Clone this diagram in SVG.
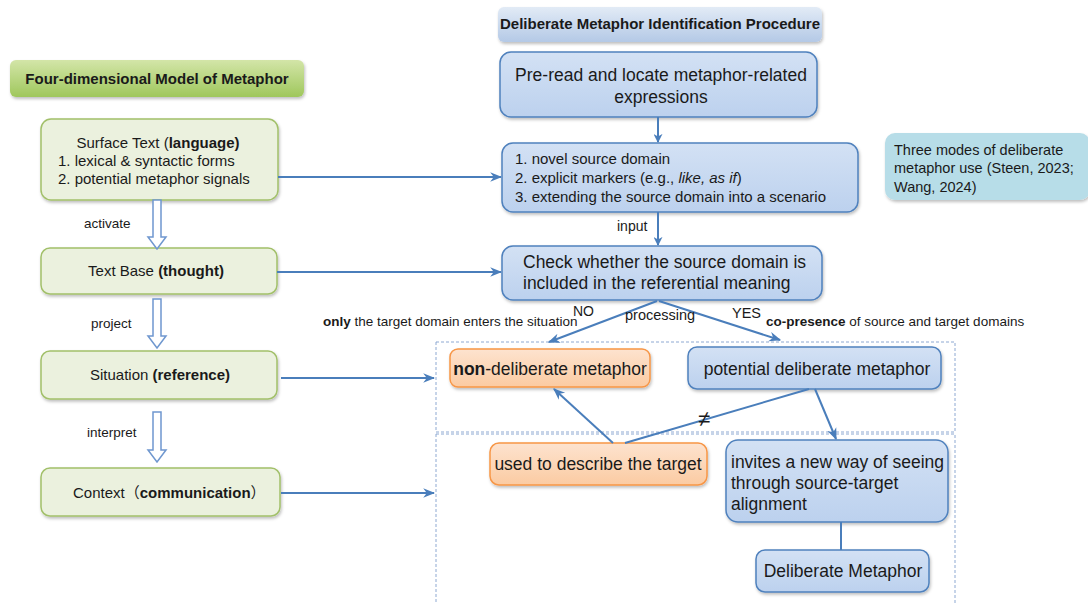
<svg xmlns="http://www.w3.org/2000/svg" width="1088" height="604" viewBox="0 0 1088 604">
<defs>
  <linearGradient id="gTitleG" x1="0" y1="0" x2="0" y2="1">
    <stop offset="0" stop-color="#d3e5a8"/>
    <stop offset="1" stop-color="#9fc75c"/>
  </linearGradient>
  <linearGradient id="gTitleB" x1="0" y1="0" x2="0" y2="1">
    <stop offset="0" stop-color="#e2ebf6"/>
    <stop offset="1" stop-color="#b4c9e6"/>
  </linearGradient>
  <linearGradient id="gBlue" x1="0" y1="0" x2="0" y2="1">
    <stop offset="0" stop-color="#d3e1f4"/>
    <stop offset="1" stop-color="#bcd1ee"/>
  </linearGradient>
  <linearGradient id="gOrange" x1="0" y1="0" x2="0" y2="1">
    <stop offset="0" stop-color="#fde3cf"/>
    <stop offset="1" stop-color="#fbcba2"/>
  </linearGradient>
  <filter id="sh" x="-10%" y="-20%" width="120%" height="150%">
    <feDropShadow dx="1" dy="2" stdDeviation="1.5" flood-color="#000" flood-opacity="0.25"/>
  </filter>
  <marker id="ah" viewBox="0 0 10 10" refX="9" refY="5" markerWidth="9" markerHeight="9" markerUnits="userSpaceOnUse" orient="auto">
    <path d="M0,0 L10,5 L0,10 L3,5 Z" fill="#4a7ebb"/>
  </marker>
  <marker id="ahs" viewBox="0 0 10 10" refX="9" refY="5" markerWidth="12" markerHeight="12" markerUnits="userSpaceOnUse" orient="auto">
    <path d="M0,1 L10,5 L0,9 L3,5 Z" fill="#4a7ebb"/>
  </marker>
</defs>
<style>
  text { font-family: "Liberation Sans", Arial, sans-serif; fill: #1a1a1a; }
  .green { fill: #ebf1de; stroke: #a2c06a; stroke-width: 1.5; }
  .blue { fill: url(#gBlue); stroke: #4f81bd; stroke-width: 1.5; }
  .orange { fill: url(#gOrange); stroke: #f79646; stroke-width: 1.5; }
  .conn { stroke: #4a7ebb; stroke-width: 2; fill: none; }
  .hollow { fill: #ffffff; stroke: #6f97cf; stroke-width: 1.5; }
  .dash { fill: none; stroke: #8ea9d2; stroke-width: 1; stroke-dasharray: 3 2; }
  .t15 { font-size: 15px; }
  .t17 { font-size: 17.5px; }
  .lab { font-size: 13.5px; }
  .b { font-weight: bold; }
</style>

<!-- dashed regions -->
<g id="regions">
  <rect class="dash" x="436" y="342" width="519" height="90"/>
  <rect class="dash" x="436" y="434" width="519" height="175"/>
</g>

<!-- left model -->
<g id="title-model">
  <rect x="10" y="60" width="294" height="37" rx="6" fill="url(#gTitleG)" filter="url(#sh)"/>
  <text x="157" y="84" text-anchor="middle" class="t15 b">Four-dimensional Model of Metaphor</text>
</g>
<g id="surface-text">
  <rect class="green" x="41" y="119" width="237" height="81" rx="10" filter="url(#sh)"/>
  <text x="158" y="148" text-anchor="middle" class="t15">Surface Text (<tspan class="b">language)</tspan></text>
  <text x="58" y="166" class="t15">1. lexical &amp; syntactic forms</text>
  <text x="58" y="184" class="t15">2. potential metaphor signals</text>
</g>
<g id="text-base">
  <rect class="green" x="41" y="248" width="236" height="46" rx="9" filter="url(#sh)"/>
  <text x="156" y="276" text-anchor="middle" class="t15">Text Base <tspan class="b">(thought)</tspan></text>
</g>
<g id="situation">
  <rect class="green" x="41" y="351" width="236" height="48" rx="9" filter="url(#sh)"/>
  <text x="160" y="380" text-anchor="middle" class="t15">Situation <tspan class="b">(reference)</tspan></text>
</g>
<g id="context">
  <rect class="green" x="41" y="468" width="239" height="48" rx="9" filter="url(#sh)"/>
  <text x="73" y="498" class="t15">Context<tspan font-family="'Noto Sans CJK SC', sans-serif">（</tspan><tspan class="b">communication</tspan><tspan font-family="'Noto Sans CJK SC', sans-serif">）</tspan></text>
</g>

<!-- right procedure -->
<g id="title-procedure">
  <rect x="498" y="7" width="324" height="35" rx="6" fill="url(#gTitleB)" filter="url(#sh)"/>
  <text x="660" y="29" text-anchor="middle" class="t15 b">Deliberate Metaphor Identification Procedure</text>
</g>
<g id="pre-read">
  <rect class="blue" x="500" y="52" width="317" height="65" rx="11" filter="url(#sh)"/>
  <text x="661" y="81" text-anchor="middle" class="t17">Pre-read and locate metaphor-related</text>
  <text x="661" y="103" text-anchor="middle" class="t17">expressions</text>
</g>
<g id="three-modes">
  <rect class="blue" x="502" y="143" width="356" height="69" rx="11" filter="url(#sh)"/>
  <text x="515" y="164" class="t15">1. novel source domain</text>
  <text x="515" y="183" class="t15">2. explicit markers (e.g., <tspan font-style="italic">like, as if</tspan>)</text>
  <text x="515" y="202" class="t15">3. extending the source domain into a scenario</text>
</g>
<g id="modes-note">
  <rect x="885" y="133" width="205" height="67" rx="10" fill="#b7dde8" filter="url(#sh)"/>
  <text x="894" y="155" font-size="14.5px">Three modes of deliberate</text>
  <text x="894" y="173" font-size="14.5px">metaphor use (Steen, 2023;</text>
  <text x="894" y="192" font-size="14.5px">Wang, 2024)</text>
</g>
<g id="check">
  <rect class="blue" x="502" y="246" width="320" height="54" rx="11" filter="url(#sh)"/>
  <text x="523" y="268" class="t17">Check whether the source domain is</text>
  <text x="523" y="289" class="t17">included in the referential meaning</text>
</g>
<g id="non-deliberate">
  <rect class="orange" x="450" y="349" width="200" height="38" rx="8" filter="url(#sh)"/>
  <text x="550" y="375" text-anchor="middle" class="t17"><tspan class="b">non</tspan>-deliberate metaphor</text>
</g>
<g id="potential">
  <rect class="blue" x="688" y="347" width="253" height="42" rx="9" filter="url(#sh)"/>
  <text x="817" y="375" text-anchor="middle" class="t17">potential deliberate metaphor</text>
</g>
<g id="used-target">
  <rect class="orange" x="490" y="443" width="217" height="42" rx="9" filter="url(#sh)"/>
  <text x="598" y="470" text-anchor="middle" class="t17">used to describe the target</text>
</g>
<g id="invites">
  <rect class="blue" x="726" y="440" width="222" height="82" rx="12" filter="url(#sh)"/>
  <text x="731" y="468" class="t17">invites a new way of seeing</text>
  <text x="731" y="489" class="t17">through source-target</text>
  <text x="731" y="510" class="t17">alignment</text>
</g>
<g id="deliberate">
  <rect class="blue" x="756" y="550" width="173" height="42" rx="9" filter="url(#sh)"/>
  <text x="843" y="577" text-anchor="middle" class="t17">Deliberate Metaphor</text>
</g>

<!-- connectors -->
<g id="connectors">
  <!-- hollow arrows -->
  <path class="hollow" d="M153,200 L161,200 L161,237 L166,237 L157,249 L148,237 L153,237 Z"/>
  <path class="hollow" d="M153,299 L161,299 L161,336 L166,336 L157,348 L148,336 L153,336 Z"/>
  <path class="hollow" d="M153,412 L161,412 L161,450 L166,450 L157,462 L148,450 L153,450 Z"/>
  <text x="84" y="228" class="lab">activate</text>
  <text x="91" y="328" class="lab">project</text>
  <text x="87" y="437" class="lab">interpret</text>

  <!-- left to right -->
  <line class="conn" x1="278" y1="177" x2="501" y2="177" marker-end="url(#ahs)"/>
  <line class="conn" x1="277" y1="272" x2="501" y2="272" marker-end="url(#ahs)"/>
  <line class="conn" x1="281" y1="378" x2="434" y2="378" marker-end="url(#ahs)"/>
  <line class="conn" x1="281" y1="493" x2="434" y2="493" marker-end="url(#ahs)"/>

  <!-- procedure flow -->
  <line class="conn" x1="658" y1="117" x2="658" y2="142" marker-end="url(#ah)"/>
  <line class="conn" x1="658" y1="212" x2="658" y2="245" marker-end="url(#ah)"/>
  <text x="617" y="231" font-size="14px">input</text>

  <line class="conn" x1="657" y1="301" x2="549" y2="342" marker-end="url(#ahs)"/>
  <line class="conn" x1="659" y1="301" x2="780" y2="340" marker-end="url(#ahs)"/>
  <text x="573" y="316" font-size="14px">NO</text>
  <text x="625" y="320" font-size="14.5px">processing</text>
  <text x="732" y="318" font-size="14.5px">YES</text>
  <text x="323" y="326" class="lab"><tspan class="b">only</tspan> the target domain enters the situation</text>
  <text x="766" y="326" class="lab"><tspan class="b">co-presence</tspan> of source and target domains</text>

  <line class="conn" x1="613" y1="443" x2="554" y2="389" marker-end="url(#ahs)"/>
  <line class="conn" x1="625" y1="443" x2="809" y2="389"/>
  <text x="704" y="426" text-anchor="middle" font-size="22px">≠</text>
  <line class="conn" x1="815" y1="389" x2="836" y2="439" marker-end="url(#ahs)"/>
  <line class="conn" x1="841" y1="522" x2="841" y2="550"/>
</g>
</svg>
